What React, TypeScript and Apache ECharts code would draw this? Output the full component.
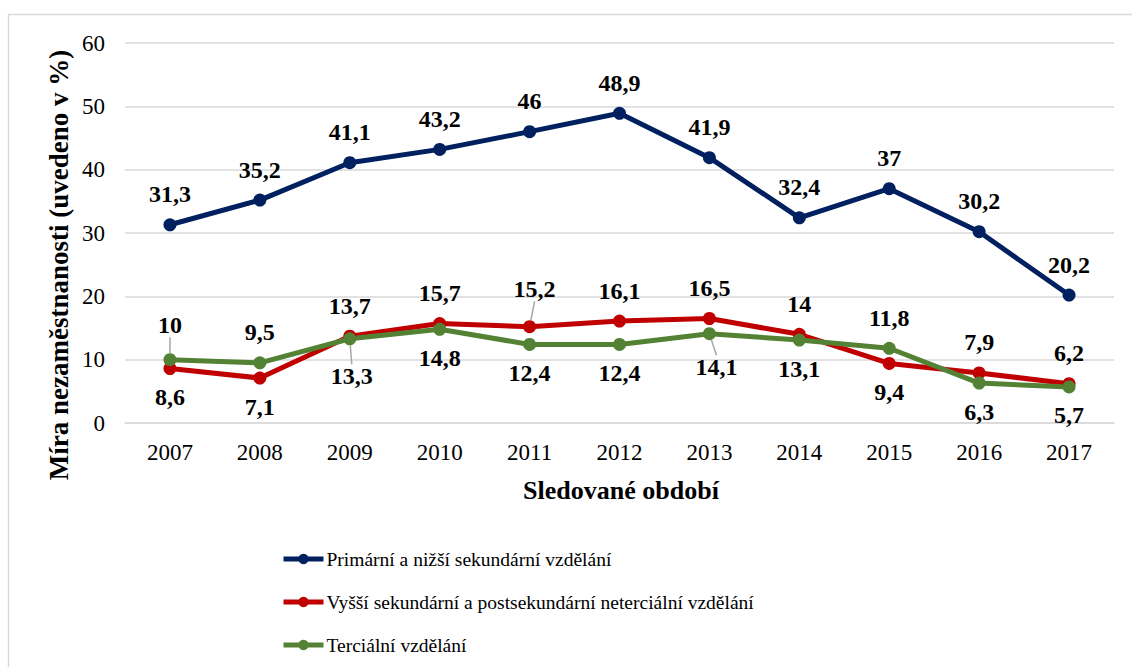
import React, { useEffect, useRef } from "react";
import * as echarts from "echarts";

const years = ["2007", "2008", "2009", "2010", "2011", "2012", "2013", "2014", "2015", "2016", "2017"];
const primary = [31.3, 35.2, 41.1, 43.2, 46, 48.9, 41.9, 32.4, 37, 30.2, 20.2];
const secondary = [8.6, 7.1, 13.7, 15.7, 15.2, 16.1, 16.5, 14, 9.4, 7.9, 6.2];
const tertiary = [10, 9.5, 13.3, 14.8, 12.4, 12.4, 14.1, 13.1, 11.8, 6.3, 5.7];
const seriesNames = [
  "Primární a nižší sekundární vzdělání",
  "Vyšší sekundární a postsekundární neterciální vzdělání",
  "Terciální vzdělání",
];
const yAxisTitle = "Míra nezaměstnanosti (uvedeno v %)";
const xAxisTitle = "Sledované období";

const primaryPos = years.map(() => "top");
const secondaryPos = ["bottom", "bottom", "top", "top", "top", "top", "top", "top", "bottom", "top", "top"];
const tertiaryPos = ["top", "top", "bottom", "bottom", "bottom", "bottom", "bottom", "bottom", "top", "bottom", "bottom"];

// label moves (with leader line) per series: dataIndex -> [dx, dy]
const secondaryMoves: Record<number, [number, number]> = { 4: [5, -7] };
const tertiaryMoves: Record<number, [number, number]> = { 0: [0, -4], 2: [2, 9], 6: [7, 5] };
const tertiaryOffsets: Record<number, [number, number]> = { 10: [10, -3] };

const FONT = "Liberation Serif";
const fmt = (p: any) => String(p.value).replace(".", ",");

function buildData(values: number[], pos: string[], moves: Record<number, [number, number]>, offsets: Record<number, [number, number]> = {}) {
  return values.map((v, i) => ({
    value: v,
    label: { position: pos[i], distance: pos[i] === "top" ? 12 : 10, offset: offsets[i] || [0, 0] },
    labelLine: { show: !!moves[i] },
  }));
}

function makeSeries(name: string, values: number[], color: string, pos: string[], moves: Record<number, [number, number]>, offsets: Record<number, [number, number]> = {}) {
  return {
    name,
    type: "line",
    data: buildData(values, pos, moves, offsets),
    symbol: "circle",
    symbolSize: 13,
    lineStyle: { color, width: 5 },
    itemStyle: { color },
    label: {
      show: true,
      formatter: fmt,
      color: "#000",
      fontFamily: FONT,
      fontWeight: "bold",
      fontSize: 24,
    },
    labelLine: { show: false, lineStyle: { color: "#a6a6a6", width: 1.5 } },
    labelLayout: (params: any) => {
      const m = moves[params.dataIndex];
      if (m) return { dx: m[0], dy: m[1] };
      return {};
    },
    emphasis: { disabled: true },
  };
}

export default function App() {
  const ref = useRef<HTMLDivElement>(null);
  useEffect(() => {
    if (!ref.current) return;
    const chart = echarts.init(ref.current, undefined, { renderer: "svg" });
    chart.setOption({
      animation: false,
      backgroundColor: "#fff",
      textStyle: { fontFamily: FONT },
      grid: { left: 125, right: 18, top: 43, bottom: 244 },
      xAxis: {
        type: "category",
        data: years,
        boundaryGap: true,
        axisLine: { show: true, lineStyle: { color: "#d9d9d9", width: 1.5 } },
        axisTick: { show: false },
        axisLabel: { color: "#000", fontFamily: FONT, fontSize: 23, margin: 18 },
      },
      yAxis: {
        type: "value",
        min: 0,
        max: 60,
        interval: 10,
        axisLine: { show: false },
        axisTick: { show: false },
        splitLine: { lineStyle: { color: "#d9d9d9", width: 1.5 } },
        axisLabel: { color: "#000", fontFamily: FONT, fontSize: 23, margin: 20 },
      },
      legend: {
        orient: "vertical",
        left: 276,
        top: 544,
        itemWidth: 40,
        itemHeight: 13,
        itemGap: 23,
        lineStyle: { width: 5 },
        textStyle: { color: "#000", fontFamily: FONT, fontSize: 19.5, padding: [0, 0, 0, -2] },
        data: seriesNames,
      },
      graphic: [
        {
          type: "rect",
          silent: true,
          shape: { x: 8.5, y: 14.5, width: 1200, height: 700 },
          style: { fill: "none", stroke: "#d9d9d9", lineWidth: 1.5 },
        },
        {
          type: "text",
          x: 59,
          y: 265,
          rotation: Math.PI / 2,
          style: {
            text: yAxisTitle,
            fontFamily: FONT,
            fontWeight: "bold",
            fontSize: 27,
            fill: "#000",
            align: "center",
            verticalAlign: "middle",
          },
        },
        {
          type: "text",
          x: 621,
          y: 490,
          style: {
            text: xAxisTitle,
            fontFamily: FONT,
            fontWeight: "bold",
            fontSize: 26,
            fill: "#000",
            align: "center",
            verticalAlign: "middle",
          },
        },
      ],
      series: [
        makeSeries(seriesNames[0], primary, "#002060", primaryPos, {}),
        makeSeries(seriesNames[1], secondary, "#c00000", secondaryPos, secondaryMoves),
        makeSeries(seriesNames[2], tertiary, "#548235", tertiaryPos, tertiaryMoves, tertiaryOffsets),
      ],
    });
    return () => chart.dispose();
  }, []);
  return <div ref={ref} style={{ position: "absolute", left: 0, top: 0, width: 1132, height: 667 }} />;
}
